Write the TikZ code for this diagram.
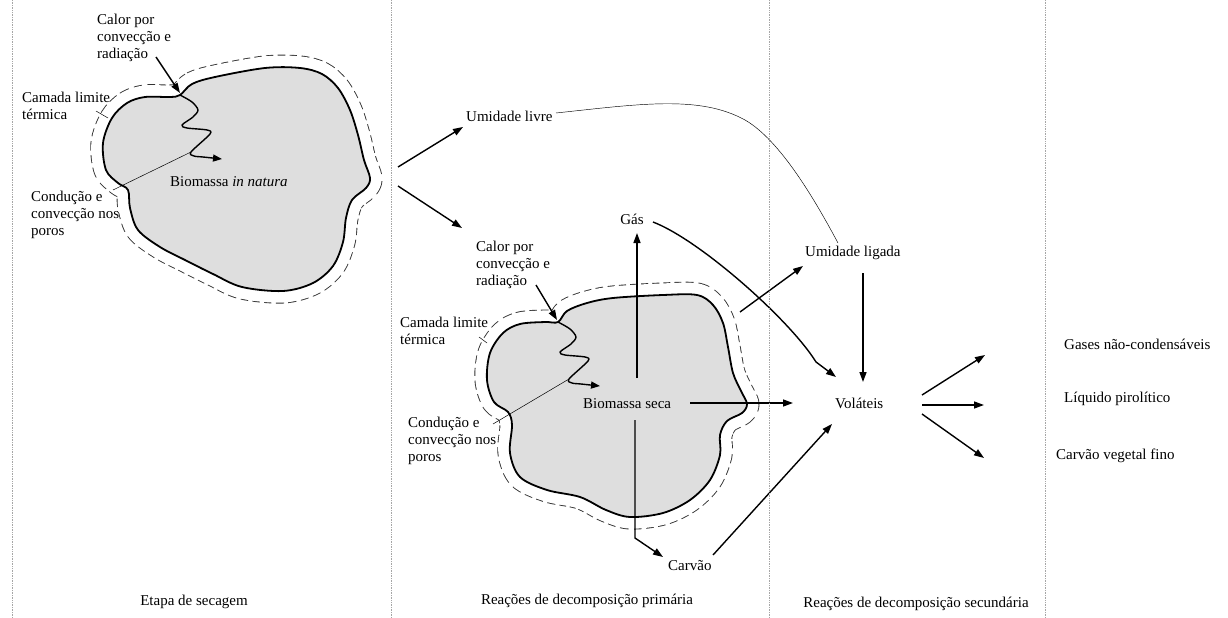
\documentclass[tikz,border=0pt]{standalone}
\usepackage{fontspec}
\setmainfont{Liberation Serif}
\usetikzlibrary{arrows.meta}
\tikzset{
  txt/.style={font=\fontsize{15}{17}\selectfont, inner sep=0pt, align=left},
  arr/.style={line width=1.4pt, -{Triangle[length=10pt,width=7pt]}},
  wavy/.style={line width=1.4pt, line join=round, -{Triangle[length=9pt,width=7pt]}},
  leader/.style={line width=0.5pt},
  thinline/.style={line width=0.45pt},
  divider/.style={gray!70, densely dotted, line width=0.7pt},
  dashring/.style={black!80, line width=25pt, dash pattern=on 7pt off 4pt, line join=round},
  whiteband/.style={white, line width=23.2pt, line join=round},
  blobfill/.style={fill=black!13, draw=black, line width=1.8pt, line join=round},
  blobA/.style={insert path={plot[smooth cycle, tension=0.55] coordinates {
    (180,95) (192,84) (215,77) (265,68) (300,68) (322,74) (338,88) (350,110)
    (358,135) (364,160) (370,178) (366,188) (352,200) (346,218) (343,242)
    (333,266) (313,283) (283,291) (242,287) (213,274) (185,260) (160,247)
    (138,230) (130,208) (128,190) (118,183) (106,170) (103,143) (112,118)
    (127,103) (145,97) (170,97)}}},
  blobB/.style={insert path={plot[smooth cycle, tension=0.55] coordinates {
    (558,322) (567,311) (587,303) (613,298) (663,295) (697,295) (713,305)
    (723,323) (728,347) (733,373) (741,391) (747,404) (742,413) (727,421)
    (720,435) (720,455) (710,480) (690,500) (663,513) (630,517) (606,510)
    (580,497) (547,490) (520,477) (510,453) (512,425) (508,412) (494,402)
    (487,380) (490,353) (503,333) (520,324) (545,322)}}},
  wavepath/.style={insert path={plot[smooth, tension=0.5] coordinates {
    (180,95) (192,102) (198,110) (193,117) (182,125) (187,128) (207,130)
    (210,134) (191,152) (194,156) (203,157) (222,159)}}},
}
\begin{document}
\begin{tikzpicture}[x=1pt,y=-1pt]
\useasboundingbox (0,0) rectangle (1228,618);

% ---- particles ----
\draw[dashring, blobA];
\draw[whiteband, blobA];
\filldraw[blobfill, blobA];
\draw[dashring, blobB];
\draw[whiteband, blobB];
\filldraw[blobfill, blobB];

% ---- conduction paths (wavy) ----
\draw[wavy, wavepath];
\begin{scope}[shift={(378,227)}]
\draw[wavy, wavepath];
\end{scope}

% ---- texts, panel 1 ----
\node[txt, anchor=north west] (calA) at (97,14.3) {Calor por\\convecção e\\radiação};
\node[txt, anchor=north west] (camA) at (22,92.3) {Camada limite\\térmica};
\node[txt, anchor=north west] (conA) at (31,191.3) {Condução e\\convecção nos\\poros};
\node[txt, anchor=base west] (bioA) at (170,186.5) {Biomassa \textit{in natura}};

% ---- texts, panel 2 ----
\node[txt, anchor=base west] (umL) at (466,121.5) {Umidade livre};
\node[txt, anchor=base] (gas) at (632,224) {Gás};
\node[txt, anchor=north west] (calB) at (476,241.3) {Calor por\\convecção e\\radiação};
\node[txt, anchor=north west] (camB) at (400,317.3) {Camada limite\\térmica};
\node[txt, anchor=north west] (conB) at (408,417.3) {Condução e\\convecção nos\\poros};
\node[txt, anchor=base west] (bioB) at (583,408.5) {Biomassa seca};
\node[txt, anchor=base west] (carv) at (668,570.5) {Carvão};

% ---- texts, panel 3 ----
\node[txt, anchor=base west] (umLig) at (805,256.5) {Umidade ligada};
\node[txt, anchor=base west] (vol) at (835,408.5) {Voláteis};

% ---- texts, panel 4 ----
\node[txt, anchor=base west] (gases) at (1064,349.5) {Gases não-condensáveis};
\node[txt, anchor=base west] (liq) at (1064,402.5) {Líquido pirolítico};
\node[txt, anchor=base west] (cvf) at (1056,459.5) {Carvão vegetal fino};

% ---- bottom titles ----
\node[txt, anchor=base] (t1) at (194,605) {Etapa de secagem};
\node[txt, anchor=base] (t2) at (587,604) {Reações de decomposição primária};
\node[txt, anchor=base] (t3) at (916,607) {Reações de decomposição secundária};

% ---- coordinates ----
\coordinate (calAs) at (156,57);   \coordinate (calAt) at (180,93);
\coordinate (calBs) at (536,285);  \coordinate (calBt) at (557,320);
\coordinate (camAs) at (96,111);   \coordinate (camAt) at (108,118);
\coordinate (camBs) at (479,337);  \coordinate (camBt) at (487,343);
\coordinate (conAs) at (113,190);  \coordinate (conAt) at (191,152);
\coordinate (conBs) at (493,424);  \coordinate (conBt) at (569,379);
\coordinate (splitU) at (398,167); \coordinate (umLin) at (463,127);
\coordinate (splitD) at (398,186); \coordinate (calBin) at (462,228);
\coordinate (umLout) at (556,113); \coordinate (umLigTop) at (838,243);
\coordinate (gasBot) at (637,378); \coordinate (gasIn) at (637,233);
\coordinate (gasOut) at (653,222); \coordinate (volGas) at (836,377);
\coordinate (bioBr) at (740,312);  \coordinate (umLigIn) at (803,266);
\coordinate (umLigBot) at (863,273); \coordinate (volTop) at (863,382);
\coordinate (bioBe) at (690,403);  \coordinate (volW) at (793,403);
\coordinate (bioBs) at (635,420);  \coordinate (bend) at (635,538);
\coordinate (carvIn) at (663,557);
\coordinate (carvOut) at (713,555); \coordinate (volCarv) at (832,424);
\coordinate (volR1) at (922,395);  \coordinate (gasesIn) at (985,355);
\coordinate (volR2) at (922,405);  \coordinate (liqIn) at (984,405);
\coordinate (volR3) at (922,414);  \coordinate (cvfIn) at (984,458);

% ---- connectors ----
\draw[arr] (calAs) -- (calAt);
\draw[arr] (calBs) -- (calBt);
\draw[leader] (camAs) -- (camAt);
\draw[leader] (camBs) -- (camBt);
\draw[leader] (conAs) -- (conAt);
\draw[leader] (conBs) -- (conBt);
\draw[arr] (splitU) -- (umLin);
\draw[arr] (splitD) -- (calBin);
\draw[thinline] (umLout) .. controls (640,104) and (700,95) .. (745,120)
                .. controls (780,140) and (815,200) .. (umLigTop);
\draw[arr] (gasBot) -- (gasIn);
\draw[arr] (gasOut) .. controls (700,240) and (790,320) .. (816,362) -- (volGas);
\draw[arr] (bioBr) -- (umLigIn);
\draw[arr] (umLigBot) -- (volTop);
\draw[arr] (bioBe) -- (volW);
\draw[arr] (bioBs) -- (bend) -- (carvIn);
\draw[arr] (carvOut) -- (volCarv);
\draw[arr] (volR1) -- (gasesIn);
\draw[arr] (volR2) -- (liqIn);
\draw[arr] (volR3) -- (cvfIn);

% ---- dividers ----
\draw[divider] (12,0) -- (12,618);
\draw[divider] (391,0) -- (391,618);
\draw[divider] (769,0) -- (769,618);
\draw[divider] (1045,0) -- (1045,618);
\end{tikzpicture}
\end{document}
